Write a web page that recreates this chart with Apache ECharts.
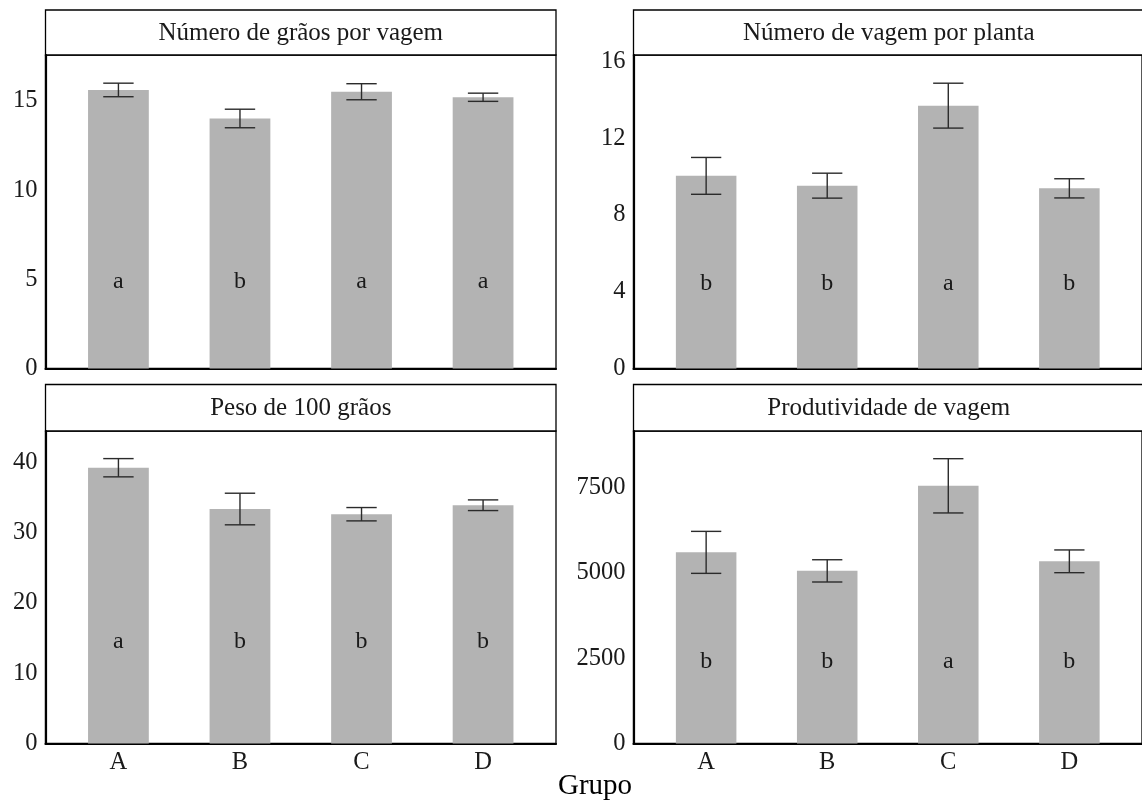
<!DOCTYPE html>
<html>
<head>
<meta charset="utf-8">
<script src="https://cdn.jsdelivr.net/npm/echarts@6/dist/echarts.min.js"></script>
<style>html,body{margin:0;padding:0;background:#fff;}#c{width:1142px;height:800px;}</style>
</head>
<body>
<div id="c"></div>
<script>
// ---- data ----
const categories = ['A', 'B', 'C', 'D'];
const panelTitles = ['Número de grãos por vagem', 'Número de vagem por planta', 'Peso de 100 grãos', 'Produtividade de vagem'];

const graosMean = [15.62, 14.02, 15.52, 15.21];
const graosErr = [0.38, 0.52, 0.45, 0.23];
const graosLetters = ['a', 'b', 'a', 'a'];
const graosLetterY = 4.86;
const graosTicks = [0, 5, 10, 15];
const graosMax = 17.58;

const vagemMean = [10.04, 9.53, 13.70, 9.39];
const vagemErr = [0.96, 0.65, 1.17, 0.50];
const vagemLetters = ['b', 'b', 'a', 'b'];
const vagemLetterY = 4.44;
const vagemTicks = [0, 4, 8, 12, 16];
const vagemMax = 16.34;

const pesoMean = [39.27, 33.39, 32.65, 33.93];
const pesoErr = [1.30, 2.25, 0.95, 0.76];
const pesoLetters = ['a', 'b', 'b', 'b'];
const pesoLetterY = 14.5;
const pesoTicks = [0, 10, 20, 30, 40];
const pesoMax = 44.5;

const prodMean = [5600, 5058, 7550, 5338];
const prodErr = [615, 326, 795, 333];
const prodLetters = ['b', 'b', 'a', 'b'];
const prodLetterY = 2397;
const prodTicks = [0, 2500, 5000, 7500];
const prodMax = 9156;

const xLabel = 'Grupo';

// ---- chart ----
const FONT = 'Liberation Serif';
const panels = [
  {mean: graosMean, err: graosErr, letters: graosLetters, ly: graosLetterY, ticks: graosTicks, max: graosMax},
  {mean: vagemMean, err: vagemErr, letters: vagemLetters, ly: vagemLetterY, ticks: vagemTicks, max: vagemMax},
  {mean: pesoMean, err: pesoErr, letters: pesoLetters, ly: pesoLetterY, ticks: pesoTicks, max: pesoMax},
  {mean: prodMean, err: prodErr, letters: prodLetters, ly: prodLetterY, ticks: prodTicks, max: prodMax}
];

const colL = [45.5, 633.5];
const pw = 510.5;
const rowTop = [55, 431];
const rowBottom = [368.5, 743.5];
const stripTop = [10, 384.5];

const grids = [], xAxes = [], yAxes = [], series = [], graphics = [];
panels.forEach((p, i) => {
  const col = i % 2, row = Math.floor(i / 2);
  const left = colL[col], top = rowTop[row], h = rowBottom[row] - rowTop[row];
  grids.push({left: left, top: top, width: pw, height: h, show: true, borderColor: '#000', borderWidth: 1.3, backgroundColor: 'transparent', containLabel: false});
  xAxes.push({
    type: 'value', gridIndex: i, min: -0.6, max: 3.6,
    axisLine: {show: true, onZero: false, lineStyle: {color: '#000', width: 2.2}},
    axisTick: {show: false}, splitLine: {show: false},
    axisLabel: {show: row === 1, customValues: [0, 1, 2, 3], formatter: v => categories[Math.round(v)],
      fontFamily: FONT, fontSize: 24.5, color: '#1a1a1a', margin: 7}
  });
  yAxes.push({
    type: 'value', gridIndex: i, min: 0, max: p.max,
    axisLine: {show: true, onZero: false, lineStyle: {color: '#000', width: 2.2}},
    axisTick: {show: false}, splitLine: {show: false},
    axisLabel: {customValues: p.ticks, formatter: v => String(v), fontFamily: FONT, fontSize: 24.5, color: '#1a1a1a', margin: 8}
  });
  const data = p.mean.map((m, k) => [k, m, p.err[k]]);
  series.push({
    type: 'custom', xAxisIndex: i, yAxisIndex: i, data: data, z: 2,
    renderItem: (params, api) => {
      const x = api.value(0), y = api.value(1);
      const p0 = api.coord([x - 0.25, 0]);
      const p1 = api.coord([x + 0.25, y]);
      return {type: 'rect', shape: {x: p0[0], y: p1[1], width: p1[0] - p0[0], height: p0[1] - p1[1]}, style: {fill: '#b3b3b3'}};
    }
  });
  series.push({
    type: 'custom', xAxisIndex: i, yAxisIndex: i, data: data, z: 3,
    renderItem: (params, api) => {
      const x = api.value(0), y = api.value(1), e = api.value(2);
      const tl = api.coord([x - 0.125, y + e]);
      const tr = api.coord([x + 0.125, y + e]);
      const bl = api.coord([x - 0.125, y - e]);
      const br = api.coord([x + 0.125, y - e]);
      const cx = api.coord([x, y])[0];
      const st = {stroke: '#2b2b2b', lineWidth: 1.4};
      return {type: 'group', children: [
        {type: 'line', shape: {x1: tl[0], y1: tl[1], x2: tr[0], y2: tr[1]}, style: st},
        {type: 'line', shape: {x1: bl[0], y1: bl[1], x2: br[0], y2: br[1]}, style: st},
        {type: 'line', shape: {x1: cx, y1: tl[1], x2: cx, y2: bl[1]}, style: st}
      ]};
    }
  });
  series.push({
    type: 'custom', xAxisIndex: i, yAxisIndex: i, z: 4,
    data: p.letters.map((l, k) => [k, p.ly]),
    renderItem: (params, api) => {
      const pt = api.coord([api.value(0), api.value(1)]);
      return {type: 'text', x: pt[0], y: pt[1], style: {text: p.letters[params.dataIndex], fontFamily: FONT, fontSize: 24, fill: '#1a1a1a', align: 'center', verticalAlign: 'middle'}};
    }
  });
  // strip
  graphics.push({type: 'rect', shape: {x: left, y: stripTop[row], width: pw, height: top - stripTop[row]}, style: {fill: '#fff', stroke: '#000', lineWidth: 1.3}});
  graphics.push({type: 'text', x: left + pw / 2, y: (stripTop[row] + top) / 2 + 1, style: {text: panelTitles[i], fontFamily: FONT, fontSize: 25, fill: '#1a1a1a', align: 'center', verticalAlign: 'middle'}});
});
graphics.push({type: 'text', x: 595, y: 786, style: {text: xLabel, fontFamily: FONT, fontSize: 29, fill: '#000', align: 'center', verticalAlign: 'middle'}});

const chart = echarts.init(document.getElementById('c'), null, {renderer: 'canvas'});
chart.setOption({
  animation: false,
  backgroundColor: '#fff',
  grid: grids, xAxis: xAxes, yAxis: yAxes, series: series, graphic: graphics
});
</script>
</body>
</html>
